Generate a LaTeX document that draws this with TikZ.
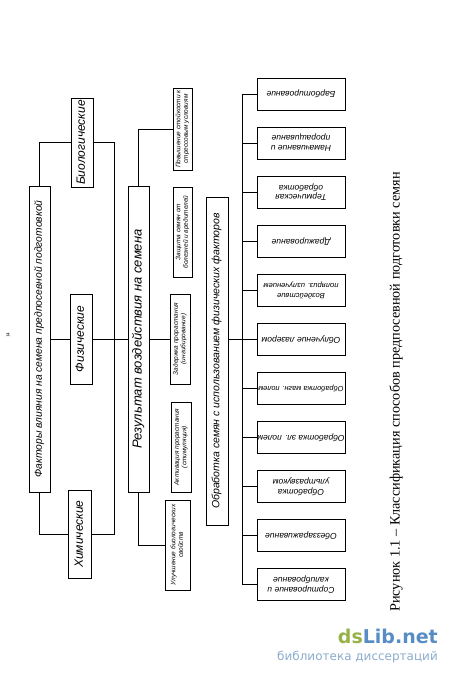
\documentclass[tikz,border=0pt]{standalone}
\usepackage{fontspec}
\usepackage{graphicx}
\usetikzlibrary{backgrounds}
\newfontfamily\gost{Liberation Sans}
\newfontfamily\capfont{Liberation Serif}
\newfontfamily\wmfont{DejaVu Sans}
\definecolor{wmgreen}{RGB}{150,178,72}
\definecolor{wmblue}{RGB}{88,140,196}
\definecolor{wmgray}{RGB}{140,172,206}
\newcommand{\myvt}[3]{\rotatebox{90}{\gost\itshape\fontsize{#1}{#2}\selectfont\begin{tabular}{@{}c@{}}#3\end{tabular}}}
\newcommand{\myrt}[2][8.5]{\rotatebox[origin=c]{180}{\gost\itshape\fontsize{#1}{10}\selectfont\begin{tabular}{@{}c@{}}#2\end{tabular}}}
\tikzset{
  box/.style={draw, line width=0.6pt, fill=white, inner sep=0pt, outer sep=0pt, align=center},
  rbox/.style={box, minimum width=88pt, minimum height=32pt},
  conn/.style={line width=0.6pt},
}
\begin{document}
\begin{tikzpicture}[x=1pt,y=-1pt]
\useasboundingbox (0,0) rectangle (450,676);
% left part
\node[box, minimum width=21pt, minimum height=306pt] (fac) at (39.5,339) {\myvt{10.3}{12}{Факторы влияния на семена предпосевной подготовкой}};
\node[box, minimum width=22pt, minimum height=89pt] (bio) at (82,142.5) {\myvt{12}{14}{Биологические}};
\node[box, minimum width=22pt, minimum height=90pt] (fiz) at (81,339) {\myvt{12}{14}{Физические}};
\node[box, minimum width=23pt, minimum height=88pt] (him) at (80,534) {\myvt{12}{14}{Химические}};
\node[box, minimum width=21pt, minimum height=306pt] (res) at (138.5,339) {\myvt{13}{15}{Результат воздействия на семена}};
\node[box, minimum width=19pt, minimum height=82pt] (pov) at (182.5,129) {\myvt{6.5}{7.5}{Повышение стойкости к\\стрессовым условиям}};
\node[box, minimum width=19pt, minimum height=90pt] (zash) at (182.5,232) {\myvt{6.5}{7.5}{Защита семян от\\болезней и вредителей}};
\node[box, minimum width=20pt, minimum height=90pt] (zad) at (180,339) {\myvt{6.5}{7.5}{Задержка прорастания\\(ингибирование)}};
\node[box, minimum width=20pt, minimum height=90pt] (akt) at (181,447) {\myvt{6.5}{7.5}{Активация прорастания\\(стимуляция)}};
\node[box, minimum width=25pt, minimum height=90pt] (ulu) at (177.5,545) {\myvt{6.5}{7.5}{Улучшение биологических\\свойств}};
\node[box, minimum width=22pt, minimum height=328pt] (obr) at (217,361) {\myvt{10.5}{12}{Обработка семян с использованием физических факторов}};
% right column
\node[rbox] (r1) at (301,94) {\myrt{Барботирование}};
\node[rbox] (r2) at (301,143) {\myrt{Намачивание и\\проращивание}};
\node[rbox] (r3) at (301,192) {\myrt{Термическая\\обработка}};
\node[rbox] (r4) at (301,241) {\myrt{Дражирование}};
\node[rbox] (r5) at (301,290) {\myrt[7.6]{Воздействие\\поляриз. излучением}};
\node[rbox] (r6) at (301,339) {\myrt{Облучение лазером}};
\node[rbox] (r7) at (301,388) {\myrt[7.4]{Обработка магн. полем}};
\node[rbox] (r8) at (301,437) {\myrt{Обработка эл. полем}};
\node[rbox] (r9) at (301,486) {\myrt{Обработка\\ультразвуком}};
\node[rbox] (r10) at (301,535) {\myrt{Обеззараживание}};
\node[rbox] (r11) at (301,584) {\myrt{Сортирование и\\калибрование}};
% caption etc.
\node[rotate=90, inner sep=0pt] (cap) at (396,392) {\capfont\fontsize{14.2}{16}\selectfont Рисунок 1.1 – Классификация способов предпосевной подготовки семян};
\node[rotate=90, inner sep=0pt] (pn) at (8,335) {\capfont\fontsize{5}{6}\selectfont 14};
\node[inner sep=0pt, anchor=east] (wm1) at (438,636) {\wmfont\bfseries\fontsize{19}{22}\selectfont\textcolor{wmgreen}{ds}\textcolor{wmblue}{Lib.net}};
\node[inner sep=0pt, anchor=east] (wm2) at (438,657) {\wmfont\fontsize{12}{14}\selectfont\textcolor{wmgray}{библиотека диссертаций}};
\coordinate (vt) at (114,142.5);
\coordinate (vb) at (114,534);
\coordinate (bt) at (242,94);
\coordinate (bb) at (242,584);
\begin{scope}[on background layer]
\fill[white] (0,0) rectangle (450,676);
\draw[conn] (fac.north) |- (vt) -- (vb) -| (fac.south);
\draw[conn] (fac.east) -- (res.west);
\draw[conn] (res.east) -- (zad.west);
\draw[conn] (res.north) |- (pov.west);
\draw[conn] (res.south) |- (ulu.west);
\draw[conn] (bt) -- (bb);
\foreach \k in {1,...,11} {\draw[conn] (bt |- r\k.west) -- (r\k.west);}
\draw[conn] (obr.east |- r6.west) -- (bt |- r6.west);
\end{scope}
\end{tikzpicture}
\end{document}
